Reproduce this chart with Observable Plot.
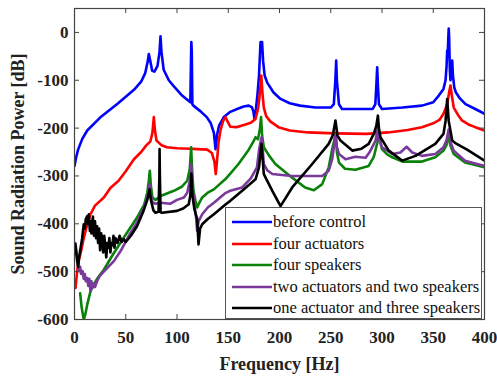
<!DOCTYPE html>
<html><head><meta charset="utf-8">
<script src="https://cdn.jsdelivr.net/npm/d3@7"></script>
<script src="https://cdn.jsdelivr.net/npm/@observablehq/plot@0.6"></script>
<style>
body{margin:0;background:#fff;}
#wrap{position:relative;width:497px;height:376px;}
#legend{position:absolute;left:225px;top:207px;width:257px;height:112px;border:1px solid #555;background:#fff;font-family:"Liberation Serif",serif;font-size:16.5px;color:#111;box-sizing:border-box;}
.row{position:absolute;left:0;height:20px;display:flex;align-items:center;white-space:nowrap;}
.row svg{margin-left:6px;margin-right:1px;}
</style></head><body><div id="wrap"></div>
<script>
const seriesNames = ["before control","four actuators","four speakers","two actuators and two speakers","one actuator and three speakers"];
const seriesColors = ["#0000ff","#ff0000","#0a820a","#7a3a9c","#000000"];
const xTicks = [0,50,100,150,200,250,300,350,400];
const yTicks = [-600,-500,-400,-300,-200,-100,0];

const blueFreq = [0,1.5,3.5,7.5,12.4,25,42,58,65,69,71.5,72.5,73.5,75.8,78,81,83,83.9,84.8,87,92,97,105,113,113.8,114,114.4,115,116,123,129,133,136,137.6,139,141,145.7,152,158.7,165,170,173,174.5,175.6,177,178.5,180,181.5,182.2,183,184,185.5,188,194,201,210,220,235,250,253,254.5,255.3,256,258,261,275,291,293.5,294.5,295.3,296,297,300,320,339,350,355.4,360,362,363,363.6,364.2,364.8,365.1,365.5,366.2,366.8,367.5,368.5,369.2,370.5,372,376,381.5,391,400];
const blueDb = [-279,-262,-245,-223,-205,-178,-149,-120,-103,-85,-60,-45,-55,-80,-82,-70,-40,-8,-40,-78,-100,-113,-132,-146,-40,-20,-40,-150,-153,-165,-177,-190,-210,-244,-215,-195,-177,-166,-160,-155,-153,-156,-165,-181,-160,-130,-90,-20,-40,-20,-60,-90,-105,-125,-139,-148,-153,-157,-157,-150,-100,-59,-100,-150,-160,-160,-160,-150,-110,-73,-110,-150,-160,-157,-153,-146,-132,-118,-100,-70,-38,-40,-5,8,-10,-80,-100,-90,-59,-90,-115,-125,-138,-150,-160,-170];

const redFreq = [1,2.6,4,6,9,12,15.6,20,28.6,35,43,50,58,65,70,74,76,77.4,78.5,80,85,90,100,113,120,129.5,134,136.5,137.8,139,140.5,142.4,145,147.3,149,152,158,166,172,176.6,179,180.5,182.2,183.5,184.7,187,191,199,210,228,254,285,306,325,339,350,356,360,363.6,365.5,366.8,368,370,374,378,385,391,400];
const redDb = [-534,-499,-478,-461,-430,-405,-380,-362,-345,-325,-310,-290,-265,-250,-236,-228,-210,-177,-205,-226,-236,-240,-242,-243,-244,-245,-252,-270,-296,-270,-230,-205,-185,-177,-185,-197,-198,-193,-189,-181,-160,-135,-90,-130,-157,-175,-186,-198,-205,-209,-211,-212,-209,-204,-198,-190,-183,-170,-150,-125,-111,-130,-157,-172,-184,-193,-198,-205];

const greenFreq = [5.5,7,9,10.5,12.4,15.6,18.8,22,28.6,38.4,48,61,68,71,72.5,73.5,74.5,76,79,84,97,105,110,112.5,113.8,114.8,116,118,119.7,122,124.6,130,136,147,152,160,170,175,176.6,179,181,182,183,184.7,190,196,212,225,233.5,241.7,248,251.4,253.5,255,256,258,264,274,287,292,295.5,297,298.5,300,305,310,320,339,352,360,363,365,366.5,370,381,400];
const greenDb = [-545,-575,-600,-590,-569,-541,-527,-515,-496,-461,-429,-387,-360,-335,-310,-289,-320,-345,-350,-342,-331,-322,-310,-285,-240,-290,-330,-352,-366,-355,-345,-335,-328,-307,-295,-275,-245,-226,-219,-223,-200,-177,-215,-240,-258,-275,-303,-324,-330,-317,-282,-244,-225,-210,-250,-272,-285,-287,-279,-260,-230,-205,-230,-244,-255,-261,-270,-270,-261,-247,-235,-212,-235,-254,-272,-282];

const purpleFreq = [0.8,2,3.3,4.5,5.5,6.5,8,9,10,11,12.4,13.5,14.5,15.6,16.5,17.5,18.8,20,22,25,28.6,33,38.4,45,53,61,68,71,72.5,73.5,74.5,76,79,84,93.7,100,106.7,110,112.5,113.8,114.8,117,118.5,119.7,121,124.6,130,136,147,152,163.6,172,178,180,182.4,183.5,184.7,188,193,212,241.7,248,251.4,253,254.6,256,258,264.4,274,284,288,293.7,296,297.5,300,310,318,324,329.5,339,352,360,363,365,367,370,381,400];
const purpleDb = [-440,-460,-478,-499,-490,-505,-499,-515,-505,-520,-513,-530,-515,-541,-520,-534,-525,-532,-520,-508,-500,-490,-478,-457,-425,-397,-365,-345,-330,-317,-340,-355,-358,-356,-358,-350,-345,-335,-310,-275,-320,-360,-385,-415,-395,-380,-366,-356,-336,-331,-324,-305,-282,-247,-219,-240,-275,-288,-296,-300,-300,-289,-265,-240,-215,-240,-254,-265,-260,-262,-250,-226,-199,-225,-240,-254,-251,-239,-251,-258,-254,-240,-225,-203,-230,-247,-268,-279];

const blackFreq = [0.8,2.6,3.5,4.5,6,7.5,9,10,11,12.4,13,14,15,15.6,16.5,17,18,19,20,21,22,23,24,25,26,27,28,29,30,31,32,33,34,35,36,37,38,39,40,42,44,46,48,50,55,61,67,71,73.3,74.5,77,79,82,82.8,83,83.3,84,85.5,100,106,111.5,113,114,115,117,119.7,121,122.5,124.6,130,136,147,152,163.6,176.6,180,182.4,184.7,193,201,212.4,231.9,248,252,254.6,256.5,259.5,271,280,287,292,294.5,296,297,298.5,306.6,319.7,332.7,352,360,362,363.6,365,368.5,372,383,400];
const blackDb = [-443,-478,-490,-470,-450,-430,-401,-410,-390,-384,-400,-380,-415,-395,-420,-400,-385,-425,-395,-430,-405,-440,-410,-455,-420,-430,-460,-425,-445,-470,-440,-450,-430,-460,-440,-445,-425,-450,-430,-440,-425,-438,-432,-438,-425,-405,-375,-350,-328,-350,-372,-377,-375,-300,-244,-300,-376,-377,-373,-368,-359,-340,-295,-340,-370,-390,-443,-410,-401,-390,-380,-360,-352,-331,-307,-282,-233,-296,-331,-363,-324,-275,-233,-215,-184,-215,-226,-247,-243,-233,-212,-195,-174,-200,-219,-247,-268,-258,-233,-212,-185,-139,-184,-226,-232,-245,-268];

const seriesFreqs = [blueFreq, redFreq, greenFreq, purpleFreq, blackFreq];
const seriesDbs = [blueDb, redDb, greenDb, purpleDb, blackDb];

const W = 497, H = 376, mL = 74, mR = 13, mT = 8, mB = 57;
const plotW = W - mL - mR, plotH = H - mT - mB, tick = 5;

const lineMarks = seriesNames.map((name, i) => {
  const fr = seriesFreqs[i], db = seriesDbs[i];
  const n = Math.min(fr.length, db.length);
  const rows = d3.range(n).map(k => ({f: fr[k], db: db[k], s: name}));
  return Plot.line(rows, {x: "f", y: "db", stroke: seriesColors[i], strokeWidth: 2.6, strokeLinejoin: "round", clip: true});
});

const chart = Plot.plot({
  width: W, height: H,
  marginLeft: mL, marginRight: mR, marginTop: mT, marginBottom: mB,
  style: {fontFamily: "'Liberation Serif', serif", fontSize: "17px", fontWeight: "bold", color: "#222", background: "#fff"},
  x: {domain: [0, 400]},
  y: {domain: [-600, 50]},
  marks: [
    ...lineMarks,
    Plot.frame({stroke: "#444", strokeWidth: 1.2}),
    Plot.ruleX(xTicks, {x: d => d, insetTop: plotH - tick, stroke: "#444"}),
    Plot.ruleX(xTicks, {x: d => d, insetBottom: plotH - tick, stroke: "#444"}),
    Plot.ruleY(yTicks, {y: d => d, insetRight: plotW - tick, stroke: "#444"}),
    Plot.ruleY(yTicks, {y: d => d, insetLeft: plotW - tick, stroke: "#444"}),
    Plot.axisX({ticks: xTicks, tickSize: 0, tickPadding: 11, label: null, tickFormat: d => String(d)}),
    Plot.axisY({ticks: yTicks, tickSize: 0, tickPadding: 6, label: null, tickFormat: d => String(d)}),
    Plot.text(["Frequency [Hz]"], {frameAnchor: "bottom", dy: 45, lineAnchor: "middle", textAnchor: "middle", fontSize: 18, fontWeight: "bold", fill: "#222"}),
    Plot.text(["Sound Radiation Power [dB]"], {frameAnchor: "left", dx: -56, rotate: -90, textAnchor: "middle", lineAnchor: "middle", fontSize: 18, fontWeight: "bold", fill: "#222"})
  ]
});

const wrap = document.getElementById("wrap");
wrap.appendChild(chart);

const legend = document.createElement("div");
legend.id = "legend";
seriesNames.forEach((name, i) => {
  const row = document.createElement("div");
  row.className = "row";
  row.style.top = (4 + i * 21.5) + "px";
  row.innerHTML = `<svg width="40" height="6"><line x1="0" y1="3" x2="40" y2="3" stroke="${seriesColors[i]}" stroke-width="2.6"/></svg><span>${name}</span>`;
  legend.appendChild(row);
});
wrap.appendChild(legend);
</script>
</body></html>
